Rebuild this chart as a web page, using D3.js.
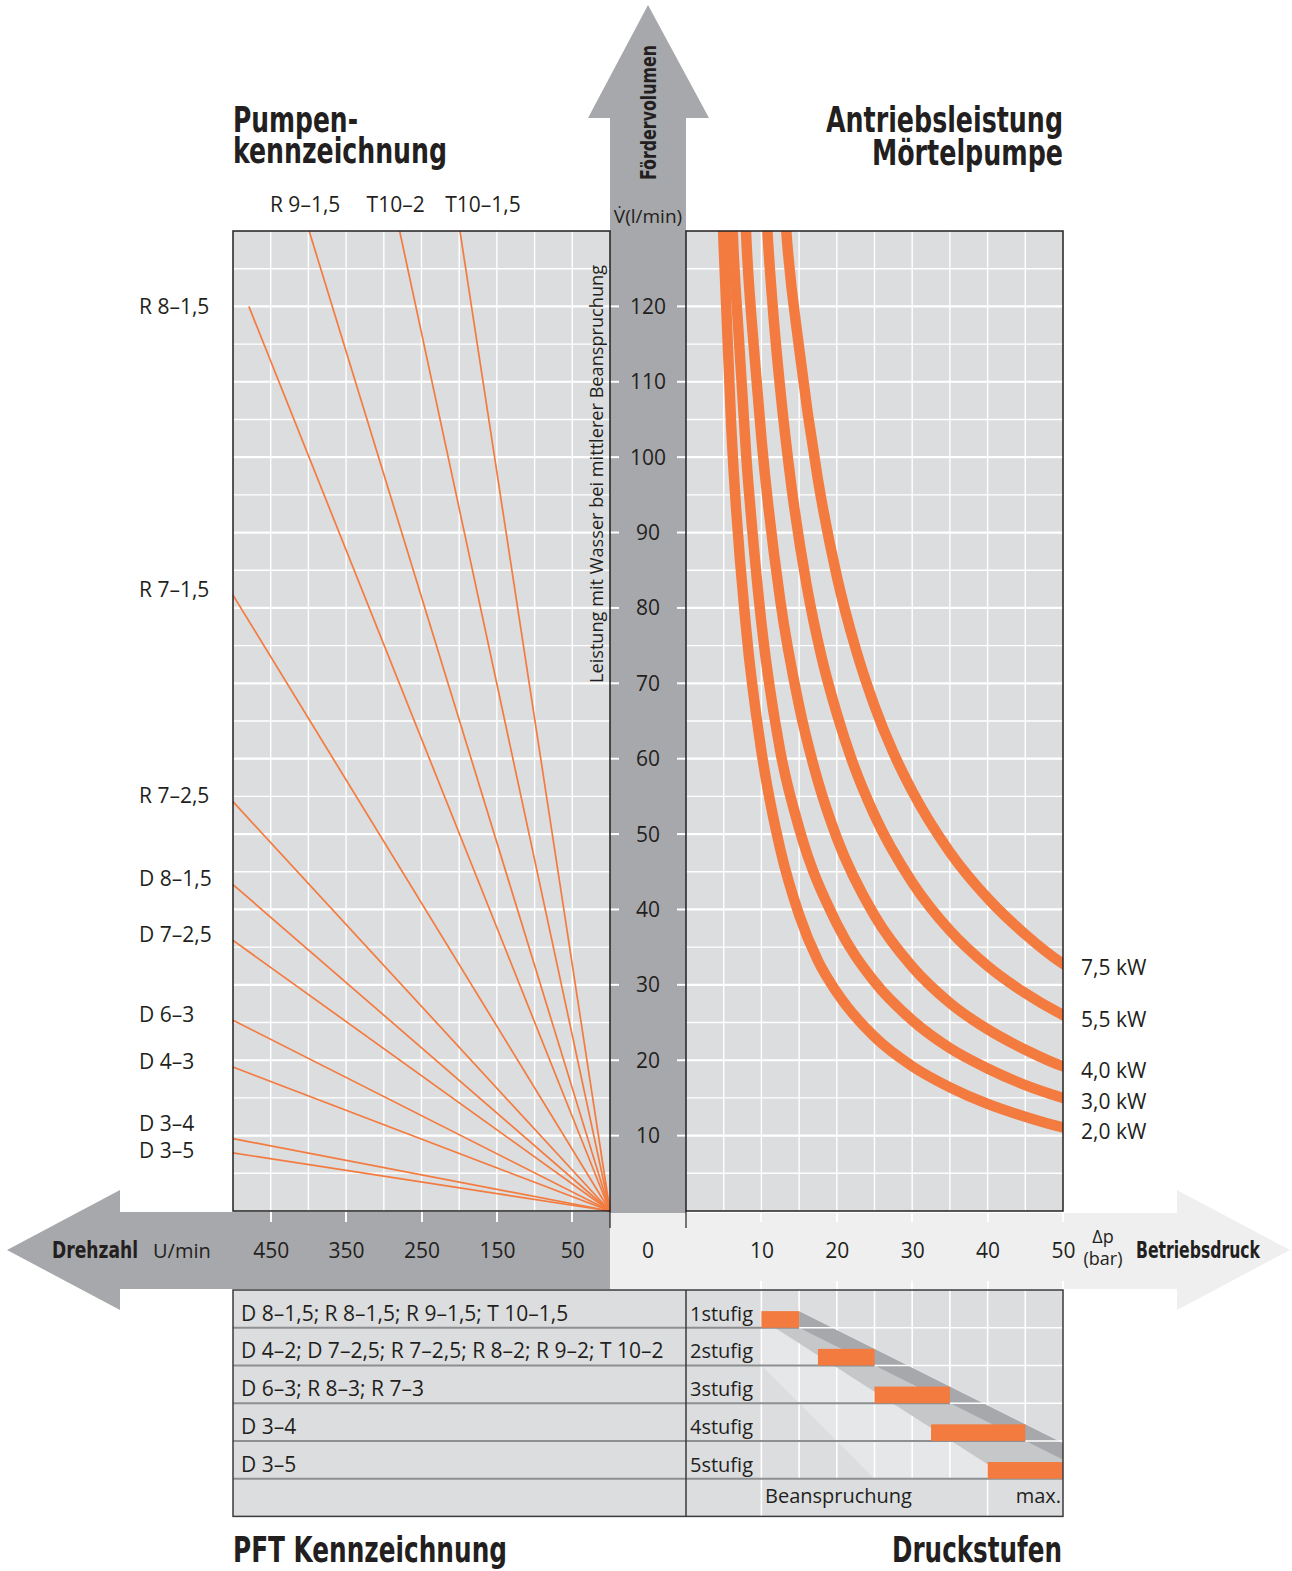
<!DOCTYPE html>
<html>
<head>
<meta charset="utf-8">
<script src="https://cdn.jsdelivr.net/npm/d3@7"></script>
<style>
  body { margin: 0; background: #fff; }
  svg { display: block; }
  text { font-family: 'Open Sans', sans-serif; fill: #231f20; }
  .title { font-family: 'Liberation Sans Narrow', 'DejaVu Sans Condensed', sans-serif; font-weight: bold; }
</style>
</head>
<body>
<svg width="1292" height="1571"></svg>
<script>
// pump lines: name and end point (rpm, l/min), all start at the origin
const pumpNames = ['R 8–1,5', 'R 9–1,5', 'T10–2', 'T10–1,5', 'R 7–1,5', 'R 7–2,5',
    'D 8–1,5', 'D 7–2,5', 'D 6–3', 'D 4–3', 'D 3–4', 'D 3–5'];
const pumpRpm = [479, 399, 279, 199, 500, 500, 500, 500, 500, 500, 500, 500];
const pumpFlow = [120, 130, 130, 130, 81.7, 54.3, 43.3, 35.9, 25.3, 19.1, 9.6, 7.7];

const rpmTicks = [450, 350, 250, 150, 50];
const flowTicks = [10, 20, 30, 40, 50, 60, 70, 80, 90, 100, 110, 120];
const pressTicks = [10, 20, 30, 40, 50];

// drive power curves: [pressure bar, flow l/min]
const powerLabels = ['7,5 kW', '5,5 kW', '4,0 kW', '3,0 kW', '2,0 kW'];
const power75 = [[12.9, 136], [13.3, 130], [15, 114.5], [17.5, 97], [20, 84.2], [22.5, 74.6], [25, 67],
    [27.5, 60.8], [30, 55.7], [35, 47.6], [40, 41.5], [45, 36.7], [50, 32.8], [51, 32.2]];
const power55 = [[10.5, 136], [10.8, 130], [11.5, 120], [12.5, 109], [14, 96], [16, 83], [18, 73.4],
    [20, 66], [22, 59.8], [25, 52.5], [30, 43.6], [35, 37.2], [40, 32.5], [45, 28.9], [50, 26], [51, 25.5]];
const power40 = [[7.7, 136], [8, 129], [9, 114.5], [10, 102.5], [12.5, 81], [15, 67], [17.5, 57],
    [20, 49.5], [25, 39.2], [30, 32.4], [35, 27.6], [40, 24.1], [45, 21.4], [50, 19.2], [51, 18.9]];
const power30 = [[6, 136], [6.2, 130], [7, 116], [8, 100], [9, 88], [10, 78], [12.5, 61], [15, 50.8],
    [20, 38.1], [25, 30.4], [30, 25.3], [35, 21.6], [40, 18.9], [45, 16.7], [50, 15], [51, 14.7]];
const power20 = [[4.7, 136], [5, 128], [6, 104], [8, 77], [10, 61], [12.5, 48], [15, 39.3], [17.5, 33.2],
    [20, 29], [25, 23.1], [30, 19.2], [35, 16.4], [40, 14.2], [45, 12.5], [50, 11.1], [51, 10.9]];
const powerCurves = [power75, power55, power40, power30, power20];

// table
const pftRows = ['D 8–1,5; R 8–1,5; R 9–1,5; T 10–1,5', 'D 4–2; D 7–2,5; R 7–2,5; R 8–2; R 9–2; T 10–2',
    'D 6–3; R 8–3; R 7–3', 'D 3–4', 'D 3–5'];
const stageNames = ['1stufig', '2stufig', '3stufig', '4stufig', '5stufig'];
const stageFrom = [10, 17.5, 25, 32.5, 40];
const stageTo = [15, 25, 35, 45, 50];

const GRAY = '#a7a8ab', LIGHT = '#efefef', PANEL = '#dcdddf', ORANGE = '#f37b3f', INK = '#231f20';
const ROWLINE = '#8e8f91';

const svg = d3.select('svg');

// scales
const rpmX = d3.scaleLinear().domain([500, 0]).range([233, 610]);
const flowY = d3.scaleLinear().domain([0, 130]).range([1211, 231]);
const pressX = d3.scaleLinear().domain([0, 50]).range([686, 1063]);
const rowY = d3.scaleLinear().domain([0, 6]).range([1290, 1516.4]);

const x0 = rpmX(500), xm = rpmX(0), xp = pressX(0), x1 = pressX(50);
const yTop = flowY(130), yBot = flowY(0);

// big arrows
svg.append('path')
    .attr('d', `M7,1250 L120,1190 L120,${yBot + 1} L${xm + 1},${yBot + 1} L${xm + 1},1289 L120,1289 L120,1310 Z`)
    .attr('fill', GRAY);
svg.append('path')
    .attr('d', `M${xm},${yBot + 2} L1177,${yBot + 2} L1177,1190 L1290,1250 L1177,1310 L1177,1289 L${xm},1289 Z`)
    .attr('fill', LIGHT);
svg.append('path')
    .attr('d', `M648,5 L709,118 L${xp},118 L${xp},${yBot + 2} L${xm},${yBot + 2} L${xm},118 L588,118 Z`)
    .attr('fill', GRAY);

// panels with grid
function drawPanel(left, right, xLines) {
    const g = svg.append('g');
    g.append('rect').attr('x', left).attr('y', yTop).attr('width', right - left).attr('height', yBot - yTop)
        .attr('fill', PANEL);
    g.selectAll('.v').data(xLines).join('line')
        .attr('x1', d => d).attr('x2', d => d).attr('y1', yTop).attr('y2', yBot)
        .attr('stroke', '#fff').attr('stroke-width', 1.4);
    g.selectAll('.h').data(d3.range(5, 130, 5)).join('line')
        .attr('x1', left).attr('x2', right).attr('y1', d => flowY(d)).attr('y2', d => flowY(d))
        .attr('stroke', '#fff').attr('stroke-width', d => d % 10 === 0 ? 2.2 : 1.4);
    return g;
}
drawPanel(x0, xm, d3.range(50, 500, 50).map(d => rpmX(d)));
drawPanel(xp, x1, d3.range(5, 50, 5).map(d => pressX(d)));

// grid stubs into the center column
svg.selectAll('.stub').data(flowTicks).join('g').each(function (d) {
    const g = d3.select(this);
    g.append('line').attr('x1', xm).attr('x2', xm + 9).attr('y1', flowY(d)).attr('y2', flowY(d))
        .attr('stroke', '#fff').attr('stroke-width', 2);
    g.append('line').attr('x1', xp - 9).attr('x2', xp).attr('y1', flowY(d)).attr('y2', flowY(d))
        .attr('stroke', '#fff').attr('stroke-width', 2);
});

// pump lines
svg.append('g').selectAll('line').data(pumpNames).join('line')
    .attr('x1', xm).attr('y1', yBot)
    .attr('x2', (d, i) => rpmX(pumpRpm[i])).attr('y2', (d, i) => flowY(pumpFlow[i]))
    .attr('stroke', ORANGE).attr('stroke-width', 1.7);

// power curves (clipped to the right panel)
svg.append('clipPath').attr('id', 'clipR').append('rect')
    .attr('x', xp).attr('y', yTop).attr('width', x1 - xp).attr('height', yBot - yTop);
const powerLine = d3.line().x(d => pressX(d[0])).y(d => flowY(d[1])).curve(d3.curveMonotoneX);
svg.append('g').attr('clip-path', 'url(#clipR)')
    .selectAll('path').data(powerCurves).join('path')
    .attr('d', powerLine)
    .attr('fill', 'none').attr('stroke', ORANGE).attr('stroke-width', 10.5);

// panel frames
[[x0, xm], [xp, x1]].forEach(([a, b]) => {
    svg.append('rect').attr('x', a).attr('y', yTop).attr('width', b - a).attr('height', yBot - yTop)
        .attr('fill', 'none').attr('stroke', INK).attr('stroke-width', 1.5);
});
[xm, xp].forEach(x => svg.append('line').attr('x1', x).attr('x2', x).attr('y1', yBot).attr('y2', 1228)
    .attr('stroke', INK).attr('stroke-width', 1.2));

// bottom axes (labels from d3 axes, white tick marks drawn separately)
const axisR = svg.append('g').attr('transform', `translate(0,${yBot})`)
    .call(d3.axisBottom(rpmX).tickValues(rpmTicks).tickSize(0).tickPadding(32));
const axisP = svg.append('g').attr('transform', `translate(0,${yBot})`)
    .call(d3.axisBottom(pressX).tickValues(pressTicks).tickSize(0).tickPadding(32));
[axisR, axisP].forEach(a => {
    a.select('.domain').remove();
    a.selectAll('.tick line').remove();
    a.selectAll('.tick text').attr('fill', INK).style('font-family', "'Open Sans', sans-serif").style('font-size', '21px');
});
const tickMarks = svg.append('g');
tickMarks.selectAll('.tr').data(rpmTicks).join('line')
    .attr('x1', d => Math.round(rpmX(d))).attr('x2', d => Math.round(rpmX(d))).attr('y1', yBot + 1).attr('y2', yBot + 11)
    .attr('stroke', '#fff').attr('stroke-width', 2);
tickMarks.selectAll('.tp').data(pressTicks).join('line')
    .attr('x1', d => Math.round(pressX(d))).attr('x2', d => Math.round(pressX(d))).attr('y1', yBot + 1).attr('y2', yBot + 11)
    .attr('stroke', '#fff').attr('stroke-width', 2);
tickMarks.selectAll('.tb').data(pressTicks).join('line')
    .attr('x1', d => Math.round(pressX(d))).attr('x2', d => Math.round(pressX(d))).attr('y1', 1281).attr('y2', 1289)
    .attr('stroke', '#fff').attr('stroke-width', 2);
svg.append('text').attr('x', 648).attr('y', 1258).attr('text-anchor', 'middle').style('font-size', '21px').text('0');

// center flow labels
svg.append('g').selectAll('text').data(flowTicks).join('text')
    .attr('x', 648).attr('y', d => flowY(d)).attr('dy', '0.36em').attr('text-anchor', 'middle')
    .style('font-size', '21px').text(d => d);
svg.append('text').attr('x', 648).attr('y', 223).attr('text-anchor', 'middle').style('font-size', '19px')
    .text('V\u0307(l/min)');
svg.append('text').attr('class', 'title').attr('transform', 'translate(656,112.5) rotate(-90)')
    .attr('text-anchor', 'middle').attr('textLength', 135).attr('lengthAdjust', 'spacingAndGlyphs')
    .style('font-size', '22px').text('Fördervolumen');
svg.append('text').attr('transform', 'translate(603,474) rotate(-90)').attr('text-anchor', 'middle')
    .attr('textLength', 418).attr('lengthAdjust', 'spacingAndGlyphs')
    .style('font-size', '18px').text('Leistung mit Wasser bei mittlerer Beanspruchung');

// pump labels
const labelNudge = { 'R 9–1,5': -4, 'T10–2': -4, 'T10–1,5': 23, 'R 8–1,5': 6, 'D 3–4': -9, 'D 3–5': 3 };
svg.append('g').selectAll('text').data(pumpNames).join('text')
    .attr('x', (d, i) => pumpFlow[i] >= 130 ? rpmX(pumpRpm[i]) + labelNudge[d] : 139)
    .attr('y', (d, i) => pumpFlow[i] >= 130 ? 212 : flowY(pumpFlow[i]) - 6 + (labelNudge[d] || 0))
    .attr('dy', (d, i) => pumpFlow[i] >= 130 ? 0 : '0.36em')
    .attr('text-anchor', (d, i) => pumpFlow[i] >= 130 ? 'middle' : 'start')
    .style('font-size', '21px').text(d => d);

// power labels
svg.append('g').selectAll('text').data(powerLabels).join('text')
    .attr('x', 1081).attr('y', (d, i) => flowY(powerCurves[i][powerCurves[i].length - 2][1]) + 4)
    .attr('dy', '0.36em').style('font-size', '21px').text(d => d);

// axis names
svg.append('text').attr('class', 'title').attr('x', 52).attr('y', 1258).attr('textLength', 86)
    .attr('lengthAdjust', 'spacingAndGlyphs').style('font-size', '23px').text('Drehzahl');
svg.append('text').attr('x', 153).attr('y', 1258).style('font-size', '20px').text('U/min');
svg.append('text').attr('x', 1103).attr('y', 1243).attr('text-anchor', 'middle').style('font-size', '18px').text('Δp');
svg.append('text').attr('x', 1103).attr('y', 1265).attr('text-anchor', 'middle').style('font-size', '18px').text('(bar)');
svg.append('text').attr('class', 'title').attr('x', 1136).attr('y', 1258).attr('textLength', 124)
    .attr('lengthAdjust', 'spacingAndGlyphs').style('font-size', '23px').text('Betriebsdruck');

// titles
const titles = [
    ['Pumpen-', 233, 132, 125], ['kennzeichnung', 233, 163, 214],
    ['Antriebsleistung', 826, 132, 237], ['Mörtelpumpe', 872, 165, 191],
    ['PFT Kennzeichnung', 233, 1562, 274], ['Druckstufen', 892, 1562, 170]
];
svg.append('g').selectAll('text').data(titles).join('text').attr('class', 'title')
    .attr('x', d => d[1]).attr('y', d => d[2]).attr('textLength', d => d[3])
    .attr('lengthAdjust', 'spacingAndGlyphs').style('font-size', '35px').text(d => d[0]);

// ---- pressure stage table ----
const tbl = svg.append('g');
tbl.append('rect').attr('x', x0).attr('y', rowY(0)).attr('width', x1 - x0).attr('height', rowY(6) - rowY(0))
    .attr('fill', PANEL);

const poly = pts => 'M' + pts.map(p => `${pressX(p[0])},${rowY(p[1])}`).join('L') + 'Z';
// light shade under the stages
tbl.append('path').attr('d', poly([[10, 1], [11.8, 1], [43, 5], [25, 5], [10, 2]])).attr('fill', '#e6e7e8');

// white grid in the stage area
const stageGrid = d3.range(10, 50, 5);
tbl.selectAll('.sg').data(stageGrid).join('line')
    .attr('x1', d => pressX(d)).attr('x2', d => pressX(d))
    .attr('y1', rowY(0)).attr('y2', d => (d === 10 || d === 40) ? rowY(6) : rowY(5))
    .attr('stroke', '#fff').attr('stroke-width', 1.6);

// medium and dark diagonal bands
tbl.append('path').attr('d', poly([[11.8, 1], [15, 1], [50, 4.5], [50, 5], [43, 5]])).attr('fill', '#c6c7c9');
tbl.append('path').attr('d', poly([[15, 0.56], [50, 4.06], [50, 4.5], [15, 1]])).attr('fill', GRAY);

// row separators
tbl.selectAll('.rl').data(d3.range(1, 6)).join('line')
    .attr('x1', x0).attr('x2', d => pressX(stageTo[d - 1]))
    .attr('y1', d => rowY(d)).attr('y2', d => rowY(d))
    .attr('stroke', ROWLINE).attr('stroke-width', 2);
tbl.selectAll('.rw').data(d3.range(1, 5)).join('line')
    .attr('x1', d => pressX(stageTo[d - 1])).attr('x2', x1)
    .attr('y1', d => rowY(d)).attr('y2', d => rowY(d))
    .attr('stroke', '#fff').attr('stroke-width', 1.6);

// stage bars
tbl.selectAll('.bar').data(stageNames).join('rect')
    .attr('x', (d, i) => pressX(stageFrom[i]))
    .attr('width', (d, i) => pressX(stageTo[i]) - pressX(stageFrom[i]))
    .attr('y', (d, i) => rowY(i + 0.56)).attr('height', rowY(1) - rowY(0.56))
    .attr('fill', ORANGE);

// frame
tbl.append('rect').attr('x', x0).attr('y', rowY(0)).attr('width', x1 - x0).attr('height', rowY(6) - rowY(0))
    .attr('fill', 'none').attr('stroke', '#3a3a3c').attr('stroke-width', 1.5);
tbl.append('line').attr('x1', xp).attr('x2', xp).attr('y1', rowY(0)).attr('y2', rowY(6))
    .attr('stroke', '#3a3a3c').attr('stroke-width', 1.5);

// table texts
tbl.selectAll('.pt').data(pftRows).join('text')
    .attr('x', 241).attr('y', (d, i) => rowY(i + 1) - 7).style('font-size', '21px').text(d => d);
tbl.selectAll('.st').data(stageNames).join('text')
    .attr('x', 690).attr('y', (d, i) => rowY(i + 1) - 7).style('font-size', '20px').text(d => d);
tbl.append('text').attr('x', 765).attr('y', rowY(6) - 13).style('font-size', '20px').text('Beanspruchung');
tbl.append('text').attr('x', 1061).attr('y', rowY(6) - 13).attr('text-anchor', 'end').style('font-size', '20px').text('max.');
</script>
</body>
</html>
